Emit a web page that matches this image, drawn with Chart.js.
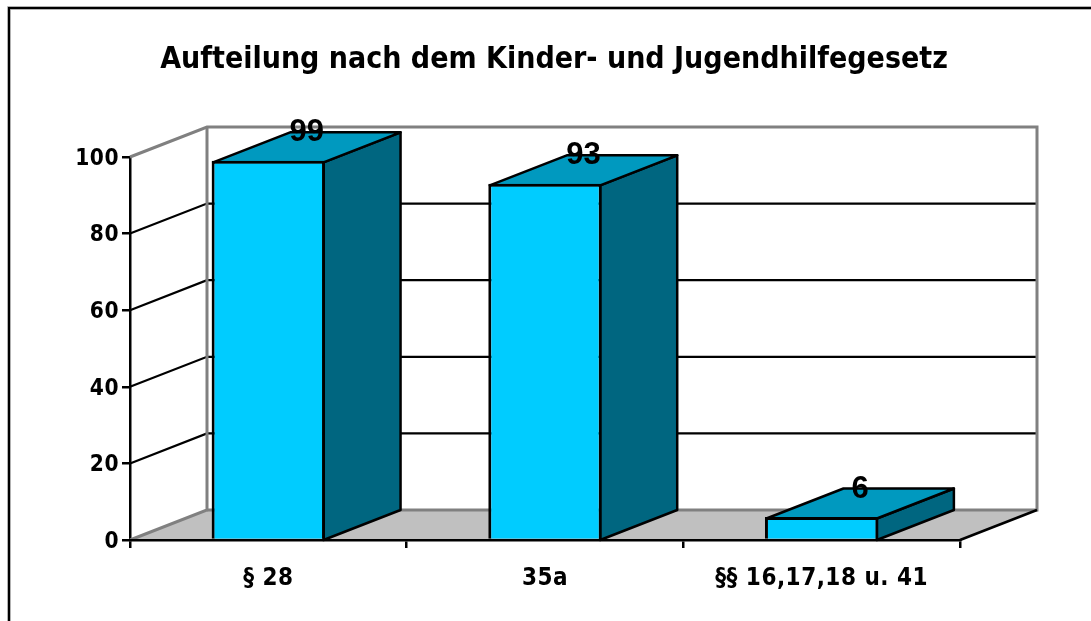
<!DOCTYPE html>
<html>
<head>
<meta charset="utf-8">
<title>Aufteilung nach dem Kinder- und Jugendhilfegesetz</title>
<script src="https://cdn.jsdelivr.net/npm/chart.js@4"></script>
<style>
    html, body { margin: 0; padding: 0; background: #fff; overflow: hidden; }
    canvas { display: block; }
</style>
</head>
<body>
<canvas id="kjhgChart" width="1091" height="621"></canvas>
<script>
const categories = ['§ 28', '35a', '§§ 16,17,18 u. 41'];
const values = [99, 93, 6];
const titleText = 'Aufteilung nach dem Kinder- und Jugendhilfegesetz';

const depthX = 77;
const depthY = 30;
const fontName = '"DejaVu Sans Condensed", "DejaVu Sans", sans-serif';

function poly(ctx, pts, fill, stroke, width) {
    ctx.beginPath();
    pts.forEach((p, i) => i ? ctx.lineTo(p[0], p[1]) : ctx.moveTo(p[0], p[1]));
    ctx.closePath();
    if (fill) { ctx.fillStyle = fill; ctx.fill(); }
    if (stroke) { ctx.strokeStyle = stroke; ctx.lineWidth = width; ctx.lineJoin = 'round'; ctx.stroke(); }
}

function line(ctx, pts, color, width) {
    ctx.beginPath();
    pts.forEach((p, i) => i ? ctx.lineTo(p[0], p[1]) : ctx.moveTo(p[0], p[1]));
    ctx.strokeStyle = color;
    ctx.lineWidth = width;
    ctx.stroke();
}

// Outer frame (cut off at the right and the bottom like in the original) and title
const framePlugin = {
    id: 'frame',
    afterLayout(chart) {
        // y labels sit a bit lower in the original
        chart.scales.y.getLabelItems(chart.chartArea).forEach(item => {
            item.options.translation[1] += 2;
        });
    },
    beforeDraw(chart) {
        const ctx = chart.ctx;
        const framePts = [[9, chart.height], [9, 8], [chart.width, 8]];
        ctx.save();
        ctx.fillStyle = '#fff';
        ctx.fillRect(0, 0, chart.width, chart.height);
        line(ctx, framePts, '#999', 3.5);
        line(ctx, framePts, '#000', 2);
        ctx.fillStyle = '#000';
        ctx.font = 'bold 30px ' + fontName;
        ctx.textAlign = 'center';
        ctx.textBaseline = 'alphabetic';
        ctx.fillText(titleText, 554, 68);
        ctx.restore();
        ctx.letterSpacing = '0.5px';
    }
};

// Back wall, floor, side wall grid lines and the depth faces of the bars
const depthPlugin = {
    id: 'depth',
    beforeDatasetsDraw(chart) {
        const ctx = chart.ctx;
        const y = chart.scales.y;
        const a = chart.chartArea;
        const y0 = y.getPixelForValue(0);
        const yTop = y.getPixelForValue(100);
        ctx.save();

        poly(ctx, [[a.left, y0], [a.left + depthX, y0 - depthY], [a.right + depthX, y0 - depthY], [a.right, y0]], '#c0c0c0');

        y.ticks.forEach(t => {
            if (t.value === 0 || t.value === 100) return;
            const p = y.getPixelForValue(t.value);
            line(ctx, [[a.left, p], [a.left + depthX, p - depthY], [a.right + depthX, p - depthY]], '#000', 2.2);
        });

        line(ctx, [[a.left, yTop], [a.left + depthX, yTop - depthY], [a.right + depthX, yTop - depthY], [a.right + depthX, y0 - depthY], [a.left + depthX, y0 - depthY]], '#808080', 3);
        line(ctx, [[a.left + depthX, yTop - depthY], [a.left + depthX, y0 - depthY], [a.left, y0]], '#808080', 3);
        line(ctx, [[a.right, y0], [a.right + depthX, y0 - depthY]], '#000', 2.5);

        chart.getDatasetMeta(0).data.forEach(bar => {
            const left = bar.x - bar.width / 2 + 1.5;
            const right = bar.x + bar.width / 2 - 1.5;
            const top = bar.y + 1.5;
            poly(ctx, [[right, top], [right + depthX, top - depthY], [right + depthX, y0 - depthY], [right, y0]], '#006680', '#000', 2.5);
            poly(ctx, [[left, top], [left + depthX, top - depthY], [right + depthX, top - depthY], [right, top]], '#0099bf', '#000', 2.5);
        });
        ctx.restore();
    },
    afterDatasetsDraw(chart) {
        const ctx = chart.ctx;
        ctx.save();
        ctx.letterSpacing = '0px';
        ctx.fillStyle = '#000';
        ctx.font = 'bold 31px "Liberation Sans", sans-serif';
        ctx.textAlign = 'center';
        ctx.textBaseline = 'middle';
        chart.getDatasetMeta(0).data.forEach((bar, i) => {
            ctx.fillText(values[i], bar.x + depthX / 2, bar.y - depthY + 2);
        });
        ctx.restore();
    }
};

new Chart(document.getElementById('kjhgChart'), {
    type: 'bar',
    data: {
        labels: categories,
        datasets: [{
            data: values,
            backgroundColor: '#00ccff',
            borderColor: '#000',
            borderWidth: 3,
            categoryPercentage: 1,
            barPercentage: 0.41
        }]
    },
    plugins: [framePlugin, depthPlugin],
    options: {
        responsive: false,
        animation: false,
        layout: { padding: { top: 157, right: 131, left: 0, bottom: 0 } },
        plugins: {
            legend: { display: false },
            tooltip: { enabled: false },
            title: { display: false }
        },
        scales: {
            y: {
                min: 0,
                max: 100,
                afterFit: s => { s.width = 130; },
                border: { color: '#000', width: 2.5 },
                grid: { drawOnChartArea: false, color: '#000', lineWidth: 2.5, tickLength: 8 },
                ticks: {
                    stepSize: 20,
                    color: '#000',
                    padding: 3,
                    font: { family: fontName, size: 22.5, weight: 'bold' }
                }
            },
            x: {
                afterFit: s => { s.height = 81; },
                border: { color: '#000', width: 2.5, z: 1 },
                grid: { drawOnChartArea: false, color: '#000', lineWidth: 2.5, tickLength: 8 },
                ticks: {
                    color: '#000',
                    padding: 16,
                    maxRotation: 0,
                    font: { family: fontName, size: 24, weight: 'bold' }
                }
            }
        }
    }
});
</script>
</body>
</html>
